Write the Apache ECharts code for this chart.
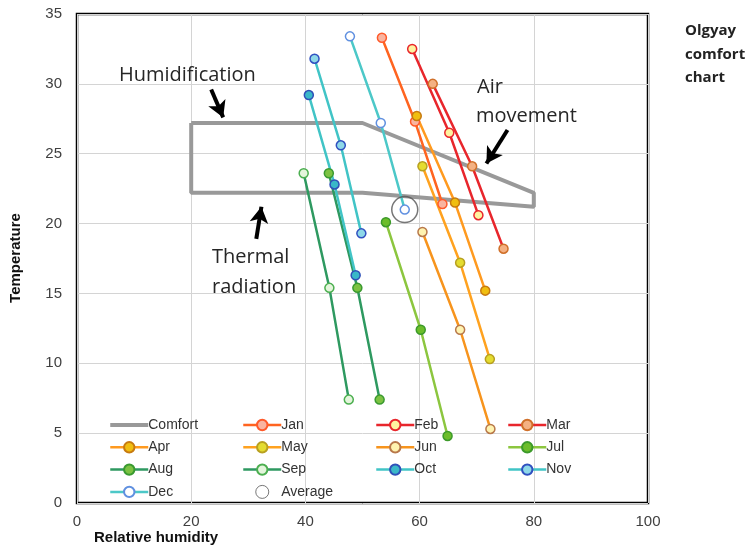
<!DOCTYPE html>
<html>
<head>
<meta charset="utf-8">
<script src="https://cdn.jsdelivr.net/npm/echarts@6/dist/echarts.min.js"></script>
<style>
  html, body { margin: 0; padding: 0; background: #fff; }
  #chart { width: 753px; height: 552px; }
</style>
</head>
<body>
<div id="chart"></div>
<script>
// axis ticks
const xTicks = [0, 20, 40, 60, 80, 100]
const yTicks = [0, 5, 10, 15, 20, 25, 30, 35]

// comfort zone outline (RH, temperature)
const comfortRH = [20, 50, 80, 80, 50, 20, 20]
const comfortT = [27.2, 27.2, 22.2, 21.2, 22.2, 22.2, 27.2]

// monthly lines: three points each (RH, temperature)
const months = ['Jan', 'Feb', 'Mar', 'Apr', 'May', 'Jun', 'Jul', 'Aug', 'Sep', 'Oct', 'Nov', 'Dec']
const monthRH = [
    [53.4, 59.2, 64.0],
    [58.7, 65.2, 70.3],
    [62.3, 69.2, 74.7],
    [59.5, 66.2, 71.5],
    [60.5, 67.1, 72.3],
    [60.5, 67.1, 72.4],
    [54.1, 60.2, 64.9],
    [44.1, 49.1, 53.0],
    [39.7, 44.2, 47.6],
    [40.6, 45.1, 48.8],
    [41.6, 46.2, 49.8],
    [47.8, 53.2, 57.4]
]
const monthT = [
    [33.3, 27.3, 21.4],
    [32.5, 26.5, 20.6],
    [30.0, 24.1, 18.2],
    [27.7, 21.5, 15.2],
    [24.1, 17.2, 10.3],
    [19.4, 12.4, 5.3],
    [20.1, 12.4, 4.8],
    [23.6, 15.4, 7.4],
    [23.6, 15.4, 7.4],
    [29.2, 22.8, 16.3],
    [31.8, 25.6, 19.3],
    [33.4, 27.2, 21.0]
]

// yearly average point
const averageRH = [57.4]
const averageT = [21.0]

// styling per month: line colour, marker fill, marker border
const lineColors = ['#ff6420', '#e8262c', '#e8262c', '#ff9a1f', '#ffa21f', '#f7941d',
    '#8cc63f', '#2e9960', '#2e9960', '#41c4c6', '#41c4c6', '#4cc8c8']
const fillColors = ['#f9b4a0', '#fff2a0', '#f4b183', '#f0be10', '#e4dc30', '#fff3b0',
    '#6cbd2a', '#7cc242', '#e4f5dc', '#3ab8c8', '#8ed8e8', '#ffffff']
const borderColors = ['#ff5a2a', '#e8262c', '#d0702a', '#c77a10', '#b8a020', '#b8784a',
    '#3c9a2a', '#3a9a30', '#4caf50', '#3050b8', '#3050c0', '#6090e0']

const zip = (xs, ys)=>xs.map((x, i)=>[x, ys[i]])

const chart = echarts.init(document.getElementById('chart'))

const monthSeries = months.map((m, i)=>({
    name: m,
    type: 'line',
    data: zip(monthRH[i], monthT[i]),
    symbol: 'circle',
    symbolSize: 9,
    lineStyle: { color: lineColors[i], width: 2.5 },
    itemStyle: { color: fillColors[i], borderColor: borderColors[i], borderWidth: 1.5 },
    emphasis: { disabled: true },
    z: 3
}))

const legendBase = {
    orient: 'vertical',
    top: 413,
    itemWidth: 38,
    itemHeight: 13,
    itemGap: 8.3,
    selectedMode: false,
    lineStyle: { width: 2.5 },
    textStyle: { fontFamily: 'Liberation Sans', fontSize: 14, color: '#333', padding: [0, 0, 0, -5] }
}
const comfortLegend = { name: 'Comfort', icon: 'path://M0,0L38,0L38,4L0,4Z', itemStyle: { color: '#999' } }
const avgLegend = { name: 'Average', itemStyle: { color: '#fff', borderColor: '#555', borderWidth: 1 } }

const arrowLine = (a, b)=>[{ coord: a }, { coord: b }]
const note = (text, x, y)=>({
    type: 'text', x, y, z: 10,
    style: { text, font: '20px "Open Sans"', fill: '#262626', verticalAlign: 'middle' }
})

const option = {
    animation: false,
    grid: { left: 77, right: 105, top: 14, bottom: 49, show: true, borderColor: '#000', borderWidth: 2.5 },
    xAxis: {
        type: 'value', min: 0, max: 100, interval: 20,
        axisLine: { show: false }, axisTick: { show: false },
        splitLine: { lineStyle: { color: '#d4d4d4', width: 1 } },
        axisLabel: { fontFamily: 'Liberation Sans', fontSize: 15, color: '#404040', margin: 11 }
    },
    yAxis: {
        type: 'value', min: 0, max: 35, interval: 5,
        axisLine: { show: false }, axisTick: { show: false },
        splitLine: { lineStyle: { color: '#d4d4d4', width: 1 } },
        axisLabel: { fontFamily: 'Liberation Sans', fontSize: 15, color: '#404040', margin: 15 }
    },
    legend: [
        Object.assign({}, legendBase, { left: 104, data: [comfortLegend, 'Apr', 'Aug', 'Dec'] }),
        Object.assign({}, legendBase, { left: 237, data: ['Jan', 'May', 'Sep', avgLegend] }),
        Object.assign({}, legendBase, { left: 370, data: ['Feb', 'Jun', 'Oct'] }),
        Object.assign({}, legendBase, { left: 502, data: ['Mar', 'Jul', 'Nov'] })
    ],
    graphic: [
        { type: 'text', left: 685, top: 19, style: { text: 'Olgyay\ncomfort\nchart', font: 'bold 15px "Open Sans"', fill: '#222', lineHeight: 23.5 } },
        { type: 'text', left: 94, top: 530, style: { text: 'Relative humidity', font: 'bold 15px "Liberation Sans"', fill: '#111' } },
        { type: 'text', x: 16, y: 258, rotation: Math.PI / 2, style: { text: 'Temperature', font: 'bold 15px "Liberation Sans"', fill: '#111', align: 'center', verticalAlign: 'middle' } },
        note('Humidification', 119, 75),
        note('Air', 477, 87),
        note('movement', 476, 116),
        note('Thermal', 212, 257),
        note('radiation', 212, 287)
    ],
    series: [
        {
            name: 'Comfort',
            type: 'line',
            data: zip(comfortRH, comfortT),
            symbol: 'none',
            lineStyle: { color: '#999', width: 4 },
            itemStyle: { color: '#999' },
            emphasis: { disabled: true },
            z: 2,
            markLine: {
                silent: true,
                symbol: ['none', 'arrow'],
                symbolSize: [14, 16],
                lineStyle: { color: '#000', width: 4, type: 'solid' },
                label: { show: false },
                data: [
                    arrowLine([23.5, 29.6], [25.6, 27.6]),
                    arrowLine([31.4, 18.9], [32.3, 21.2]),
                    arrowLine([75.4, 26.7], [71.7, 24.3])
                ]
            }
        }
    ].concat(monthSeries).concat([
        {
            name: 'Average',
            type: 'scatter',
            data: zip(averageRH, averageT),
            symbol: 'circle',
            symbolSize: 26,
            itemStyle: { color: 'rgba(0,0,0,0)', borderColor: '#555', borderWidth: 1.5 },
            emphasis: { disabled: true },
            z: 4
        }
    ])
}
chart.setOption(option)
</script>
</body>
</html>
